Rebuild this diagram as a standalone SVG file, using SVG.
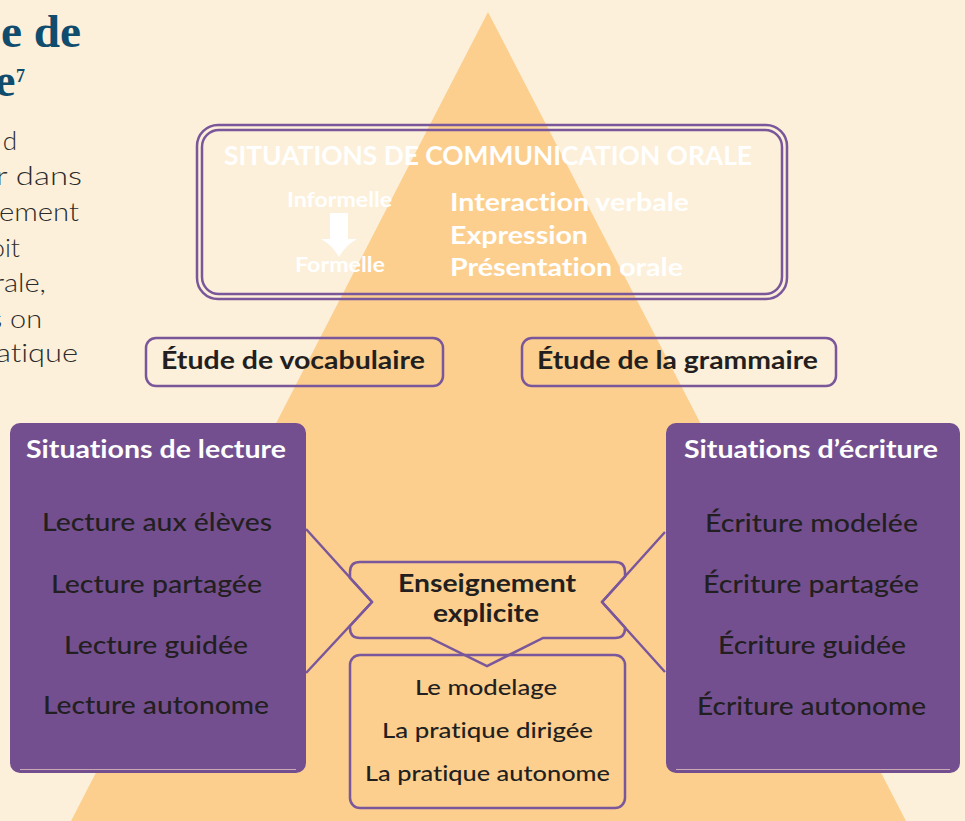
<svg xmlns="http://www.w3.org/2000/svg" width="965" height="821" viewBox="0 0 965 821">
<defs>
<style>
.bg{fill:#fdf0da}
.pyr{fill:#fccf8f}
.ol{fill:none;stroke:#7a569b;stroke-width:2.5}
.pbox{fill:#734f90}
.f{font-family:Lato,"Open Sans","Liberation Sans",sans-serif;font-variant-ligatures:none}
.w{fill:#ffffff;font-weight:700}
.dk{fill:#231f20}
.b{font-weight:700}
.m{font-weight:500}
.c{text-anchor:middle}
.body{font-family:Lato,"Liberation Sans",sans-serif;fill:#2b2b2b;font-size:26px;font-weight:300;text-anchor:end;font-variant-ligatures:none}
.ttl{font-family:"Liberation Serif","DejaVu Serif",serif;fill:#0f4c6d;font-weight:700;font-size:46px}
.cn{fill:none;stroke:#7a569b;stroke-width:2.5;stroke-linejoin:miter}
</style>
</defs>
<rect class="bg" x="0" y="0" width="965" height="821"/>
<polygon class="pyr" points="488,12 71,821 906,821"/>

<g id="page-text">
<text class="ttl" x="1" y="47" textLength="80" lengthAdjust="spacingAndGlyphs">e de</text>
<text class="ttl" x="-5" y="96">e</text>
<text class="ttl" x="16" y="82" style="font-size:18px">7</text>
<text class="body" x="17" y="150">d</text>
<text class="body" x="82" y="185" textLength="86" lengthAdjust="spacingAndGlyphs">r dans</text>
<text class="body" x="79" y="221" textLength="80" lengthAdjust="spacingAndGlyphs">ement</text>
<text class="body" x="20" y="257" textLength="30" lengthAdjust="spacingAndGlyphs">oit</text>
<text class="body" x="46" y="292" textLength="52" lengthAdjust="spacingAndGlyphs">rale,</text>
<text class="body" x="42" y="328" textLength="52" lengthAdjust="spacingAndGlyphs">s on</text>
<text class="body" x="78" y="362" textLength="82" lengthAdjust="spacingAndGlyphs">atique</text>
</g>

<g id="connectors">
<line class="cn" x1="306" y1="529" x2="372" y2="602"/>
<line class="cn" x1="306" y1="673" x2="372" y2="602"/>
<line class="cn" x1="665" y1="532" x2="602" y2="602"/>
<line class="cn" x1="665" y1="672" x2="602" y2="602"/>
</g>

<g id="oral">
<rect class="ol" x="197" y="125" width="590" height="174" rx="21" stroke-width="2.2"/>
<rect class="ol" x="202" y="130" width="580" height="164" rx="17" stroke-width="2.2"/>
<text class="f w" x="224" y="165" font-size="26" textLength="528" lengthAdjust="spacingAndGlyphs">SITUATIONS DE COMMUNICATION ORALE</text>
<text class="f w" x="287" y="207" font-size="21" textLength="105" lengthAdjust="spacingAndGlyphs">Informelle</text>
<path fill="#ffffff" d="M330,213 H348 V239 H357 Q345,246 339,257 Q333,246 321,239 H330 Z"/>
<text class="f w" x="295" y="272" font-size="21" textLength="90" lengthAdjust="spacingAndGlyphs">Formelle</text>
<text class="f w" x="450" y="211" font-size="25" textLength="239" lengthAdjust="spacingAndGlyphs">Interaction verbale</text>
<text class="f w" x="450" y="244" font-size="25" textLength="138" lengthAdjust="spacingAndGlyphs">Expression</text>
<text class="f w" x="450" y="276" font-size="25" textLength="233" lengthAdjust="spacingAndGlyphs">Présentation orale</text>
</g>

<g id="vocabulaire">
<rect class="ol" x="146" y="338" width="297" height="48" rx="10"/>
<text class="f dk b" x="161" y="369" font-size="25" textLength="264" lengthAdjust="spacingAndGlyphs">Étude de vocabulaire</text>
</g>

<g id="grammaire">
<rect class="ol" x="522" y="338" width="314" height="48" rx="10"/>
<text class="f dk b" x="537" y="369" font-size="25" textLength="281" lengthAdjust="spacingAndGlyphs">Étude de la grammaire</text>
</g>

<g id="lecture">
<rect class="pbox" x="10" y="423" width="296" height="350" rx="10"/>
<line x1="20" y1="769.5" x2="296" y2="769.5" stroke="#c9a9b6" stroke-width="1"/>
<text class="f w" x="26" y="458" font-size="25" textLength="260" lengthAdjust="spacingAndGlyphs">Situations de lecture</text>
<text class="f dk m" x="42" y="531" font-size="24" textLength="230" lengthAdjust="spacingAndGlyphs">Lecture aux élèves</text>
<text class="f dk m" x="51" y="593" font-size="24" textLength="211" lengthAdjust="spacingAndGlyphs">Lecture partagée</text>
<text class="f dk m" x="64" y="654" font-size="24" textLength="184" lengthAdjust="spacingAndGlyphs">Lecture guidée</text>
<text class="f dk m" x="43" y="714" font-size="24" textLength="226" lengthAdjust="spacingAndGlyphs">Lecture autonome</text>
</g>

<g id="ecriture">
<rect class="pbox" x="666" y="423" width="294" height="350" rx="10"/>
<line x1="676" y1="769.5" x2="950" y2="769.5" stroke="#c9a9b6" stroke-width="1"/>
<text class="f w" x="684" y="458" font-size="25" textLength="254" lengthAdjust="spacingAndGlyphs">Situations d’écriture</text>
<text class="f dk m" x="705" y="532" font-size="24" textLength="213" lengthAdjust="spacingAndGlyphs">Écriture modelée</text>
<text class="f dk m" x="703" y="593" font-size="24" textLength="216" lengthAdjust="spacingAndGlyphs">Écriture partagée</text>
<text class="f dk m" x="718" y="654" font-size="24" textLength="188" lengthAdjust="spacingAndGlyphs">Écriture guidée</text>
<text class="f dk m" x="697" y="715" font-size="24" textLength="229" lengthAdjust="spacingAndGlyphs">Écriture autonome</text>
</g>

<g id="enseignement">
<path class="cn" d="M360,562 H615 Q625,562 625,572 V576.5 L602,602 L625,627.5 V628 Q625,638 615,638 H543 L487,666 L430,638 H360 Q350,638 350,628 V626 L372,602 L350,578 V572 Q350,562 360,562 Z"/>
<text class="f dk b" x="398" y="592" font-size="25" textLength="178" lengthAdjust="spacingAndGlyphs">Enseignement</text>
<text class="f dk b" x="433" y="622" font-size="25" textLength="106" lengthAdjust="spacingAndGlyphs">explicite</text>
</g>

<g id="pratiques">
<rect class="ol" x="350" y="655" width="275" height="153" rx="10"/>
<text class="f dk m" x="415" y="695" font-size="22" textLength="142" lengthAdjust="spacingAndGlyphs">Le modelage</text>
<text class="f dk m" x="382" y="738" font-size="22" textLength="211" lengthAdjust="spacingAndGlyphs">La pratique dirigée</text>
<text class="f dk m" x="365" y="781" font-size="22" textLength="245" lengthAdjust="spacingAndGlyphs">La pratique autonome</text>
</g>
</svg>
